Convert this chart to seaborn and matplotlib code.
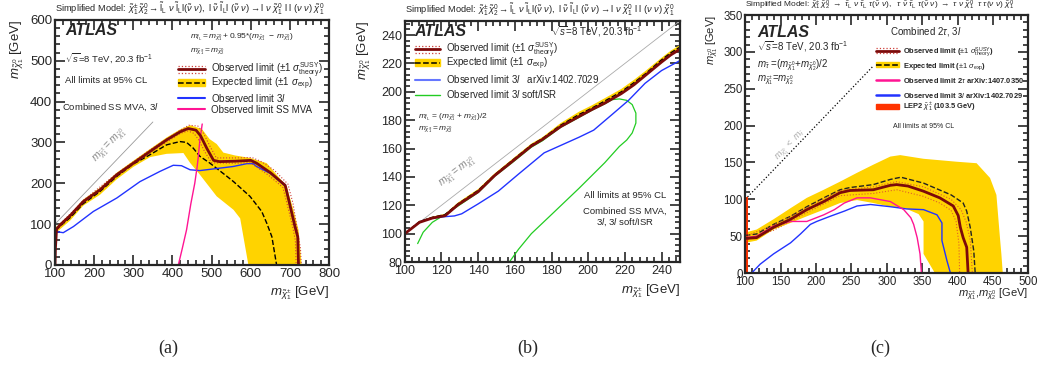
import numpy as np
import pandas as pd
import seaborn as sns
import matplotlib
matplotlib.use("Agg")
import matplotlib.pyplot as plt
from matplotlib.lines import Line2D
from matplotlib.patches import Patch
from matplotlib.legend import Legend
from matplotlib.legend_handler import HandlerBase
from matplotlib.ticker import MultipleLocator

# ---------------- data ----------------
# (a)
a_obs_x = [100, 101, 104, 113, 140, 172, 215, 258, 300, 343, 385, 420, 440, 460, 472, 488, 505, 520, 560, 600, 615, 650, 688, 700, 713, 720, 722]
a_obs_y = [0, 40, 88, 98, 122, 155, 184, 221, 249, 278, 306, 326, 334, 330, 316, 285, 256, 253, 254, 256, 249, 226, 195, 147, 94, 69, 0]
a_thup_x = [104, 172, 258, 343, 420, 442, 465, 478, 495, 512, 560, 603, 625, 660, 695, 708, 720, 727, 729]
a_thup_y = [91, 158, 224, 282, 330, 342, 340, 325, 292, 262, 262, 263, 254, 232, 198, 150, 80, 40, 0]
a_thdn_x = [104, 172, 258, 343, 420, 440, 455, 468, 482, 500, 560, 598, 610, 645, 682, 694, 707, 714, 716]
a_thdn_y = [85, 152, 218, 275, 322, 328, 322, 305, 278, 250, 249, 250, 243, 220, 190, 145, 94, 60, 0]
a_exp_x = [101, 113, 140, 172, 215, 258, 300, 343, 385, 419, 436, 453, 470, 496, 539, 556, 598, 628, 641, 654, 666]
a_exp_y = [85, 95, 117, 150, 180, 217, 247, 270, 294, 302, 300, 286, 266, 249, 217, 204, 168, 131, 102, 69, 0]
a_band_up_x = [101, 104, 140, 172, 215, 258, 300, 343, 385, 420, 445, 475, 495, 513, 530, 560, 598, 641, 692, 709, 722, 730]
a_band_up_y = [92, 94, 126, 160, 189, 226, 255, 284, 312, 332, 342, 333, 308, 296, 275, 268, 262, 249, 192, 135, 86, 0]
a_band_lo_x = [101, 104, 140, 172, 215, 258, 300, 343, 385, 428, 445, 470, 513, 556, 573, 594]
a_band_lo_y = [78, 80, 110, 145, 172, 210, 240, 264, 272, 274, 250, 221, 168, 135, 114, 0]
a_3l_x = [100, 101, 108, 121, 147, 198, 258, 317, 368, 402, 423, 445, 470, 555, 590, 606, 615, 650, 688, 700, 713, 720, 722]
a_3l_y = [0, 82, 81, 79, 94, 131, 164, 204, 229, 244, 243, 233, 231, 241, 248, 248, 241, 224, 193, 146, 93, 68, 0]
a_ss_x = [415, 425, 436, 447, 457, 463, 466, 470, 474, 476]
a_ss_y = [0, 40, 86, 150, 200, 240, 265, 306, 331, 345]
a_diag = [100, 350]

# (b)
b_obs_x = [100, 104, 108, 115, 122, 129, 140, 149, 158, 169, 175, 185, 195, 202, 209, 218, 225, 231, 240, 245, 250]
b_obs_y = [100, 104, 108, 111, 112.7, 120.4, 129.6, 141, 150.3, 161.8, 166.4, 175.5, 182.6, 187.5, 192, 198.7, 205, 211.4, 221, 226, 230]
b_exp_x = [100, 108, 115, 122, 129, 140, 149, 158, 169, 175, 185, 195, 202, 209, 218, 225, 231, 240, 245, 250]
b_exp_y = [100, 108.5, 111.5, 113.5, 121, 130.5, 141.5, 151, 162.5, 167, 176.5, 184, 188.5, 193.5, 200, 206.5, 212.5, 222.5, 227.5, 231.5]
b_band_up_y = [100, 109, 112, 114, 122, 131.5, 142.5, 152, 163.5, 168, 178, 186, 190.5, 195.5, 202, 208.5, 214.5, 224, 229, 233]
b_band_lo_y = [100, 108, 111, 113, 120.5, 129.8, 141, 150.5, 162, 166.5, 176, 183, 187.5, 192.5, 199, 205.5, 211.5, 221.5, 226.5, 230.5]
b_3l_x = [109, 115, 122, 127, 131, 140, 151, 162, 176, 195, 203, 213, 222, 231, 240, 250]
b_3l_y = [109, 111, 112, 112.5, 114, 121, 130, 142, 157, 168, 173, 184, 194, 206, 215, 222]
b_isr_x = [107, 110, 115, 120, 129, 140, 149, 158, 169, 175, 185, 195, 202, 209, 213, 217, 221, 224, 226, 226, 224, 221, 217, 209, 195, 180, 169, 162, 157]
b_isr_y = [93, 101, 108, 112, 119.5, 129, 140.5, 149.5, 161, 165.5, 175, 182, 187, 191.5, 194.5, 195, 194, 191, 185, 178, 171, 166, 161.5, 150, 132, 113.5, 100, 89, 80]
b_diag = [110, 250]

# (c)
c_obs_x = [100, 116, 140, 164, 187, 211, 234, 248, 281, 305, 314, 330, 352, 375, 394, 401, 404, 408, 413, 415]
c_obs_y = [47, 48, 62, 73, 86, 97, 109, 112, 113, 119, 120, 118, 111, 102, 91, 78, 62, 48, 35, 0]
c_exp_x = [100, 116, 140, 164, 187, 211, 234, 248, 281, 305, 320, 352, 391, 408, 413, 418, 423, 425]
c_exp_y = [51, 53, 66, 77, 90, 102, 113, 116, 120, 127, 130, 122, 106, 95, 84, 62, 30, 0]
c_thup_x = [100, 140, 187, 234, 281, 314, 352, 391, 405, 412, 418, 421]
c_thup_y = [50, 65, 89, 112, 117, 124, 117, 100, 86, 70, 45, 0]
c_thdn_x = [100, 140, 187, 234, 281, 314, 352, 375, 391, 398, 402, 403]
c_thdn_y = [44, 58, 82, 105, 108, 113, 104, 95, 85, 70, 40, 0]
c_band_up_x = [100, 116, 140, 164, 187, 211, 234, 258, 281, 305, 319, 352, 399, 427, 446, 455, 460, 462, 464]
c_band_up_y = [55, 59, 73, 88, 102, 113, 124, 136, 147, 158, 160, 155, 151, 149, 129, 106, 48, 26, 0]
c_band_lo_x = [100, 116, 140, 164, 187, 211, 234, 258, 281, 305, 328, 345, 352, 352, 368]
c_band_lo_y = [41, 44, 59, 68, 77, 86, 95, 99, 95, 90, 87, 80, 70, 26, 0]
c_2tau_x = [100, 116, 140, 164, 187, 211, 226, 240, 258, 277, 305, 324, 334, 338, 343, 347, 349]
c_2tau_y = [48, 50, 64, 70, 70, 79, 86, 95, 102, 102, 97, 86, 75, 66, 48, 26, 0]
c_3l_x = [109, 121, 140, 164, 178, 192, 201, 220, 240, 258, 277, 305, 328, 352, 371, 378, 378, 385, 390]
c_3l_y = [0, 12, 26, 41, 53, 66, 70, 77, 84, 91, 93, 90, 87, 86, 79, 68, 44, 17, 0]
c_diag = [100, 280]
lep_mass = 103.5

# ---------------- style ----------------
sns.set_style("ticks")
plt.rcParams['font.family'] = ['Liberation Sans', 'DejaVu Sans']
plt.rcParams['mathtext.fontset'] = 'custom'
plt.rcParams['mathtext.rm'] = 'Liberation Sans'
plt.rcParams['mathtext.it'] = 'Liberation Sans:italic'
plt.rcParams['mathtext.bf'] = 'Liberation Sans:bold'

DRED = '#7c0a0a'
THEO = '#d0403a'
YEL = '#ffd300'
BLUE = '#2233ff'
PINK = '#ff1493'
GREEN = '#22cc22'


class ObsHandler(HandlerBase):
    # solid dark red line with dotted theory lines above and below
    def create_artists(self, legend, orig, x0, y0, w, h, fontsize, trans):
        out = []
        for dy, ls, lw, c in [(0.5, '-', 2.0, DRED), (1.0, ':', 0.9, THEO), (0.0, ':', 0.9, THEO)]:
            out.append(Line2D([x0, x0 + w], [y0 + dy * h] * 2, color=c, ls=ls, lw=lw, transform=trans))
        return out


obs_h = Line2D([], [], color=DRED)
exp_h = (Patch(color=YEL), Line2D([], [], color='k', ls='--', lw=1.1))


def curve(ax, xs, ys, color, lw=1.0, ls='-'):
    sns.lineplot(x=xs, y=ys, sort=False, estimator=None, color=color, lw=lw, linestyle=ls, ax=ax, legend=False)


def band(ax, up_x, up_y, lo_x, lo_y):
    ax.fill(list(up_x) + list(lo_x)[::-1], list(up_y) + list(lo_y)[::-1], color=YEL, lw=0, zorder=1)


def key_rows(ax, handles, labels, x, ys, **kw):
    # one legend per row so the rows sit where the reference has them
    for h, l, y in zip(handles, labels, ys):
        leg = Legend(ax, [h], [l], handler_map={obs_h: ObsHandler()}, loc='center left',
                     bbox_to_anchor=(x, y), bbox_transform=ax.transAxes, frameon=False,
                     borderaxespad=0, borderpad=0, **kw)
        ax.add_artist(leg)


def frame(ax, xlim, ylim, xmaj, xmin, ymaj, ymin, lsize):
    ax.set_xlim(xlim)
    ax.set_ylim(ylim)
    ax.xaxis.set_major_locator(MultipleLocator(xmaj))
    ax.xaxis.set_minor_locator(MultipleLocator(xmin))
    ax.yaxis.set_major_locator(MultipleLocator(ymaj))
    ax.yaxis.set_minor_locator(MultipleLocator(ymin))
    ax.tick_params(which='both', direction='in', top=True, right=True, width=1.2, labelsize=lsize, pad=2)
    ax.tick_params(which='major', length=7)
    ax.tick_params(which='minor', length=3.5)
    for s in ax.spines.values():
        s.set_linewidth(1.6)
        s.set_zorder(10)


chi01 = r'\tilde{\chi}^{0}_{1}'
chi02 = r'\tilde{\chi}^{0}_{2}'
chipm = r'\tilde{\chi}^{\pm}_{1}'
lbl_obs = r'Observed limit ($\pm1\ \sigma^{\mathrm{SUSY}}_{\mathrm{theory}}$)'
lbl_exp = r'Expected limit ($\pm1\ \sigma_{\mathrm{exp}}$)'
title_l = (r'Simplified Model: $' + chipm + r'\,' + chi02 + r'\rightarrow\tilde{\mathrm{l}}_{\mathrm{L}}\ \nu\ \tilde{\mathrm{l}}_{\mathrm{L}}\mathrm{l}(\tilde{\nu}\ \nu),\ \mathrm{l}\ \tilde{\nu}\ \tilde{\mathrm{l}}_{\mathrm{L}}\mathrm{l}\ (\tilde{\nu}\ \nu)\rightarrow\mathrm{l}\ \nu\ ' + chi01 + r'\ \mathrm{l}\ \mathrm{l}\ (\nu\ \nu)\ ' + chi01 + '$')
title_t = (r'Simplified Model: $' + chipm + r'\,' + chi02 + r'\ \rightarrow\ \tilde{\tau}_{\mathrm{L}}\ \nu\ \tilde{\tau}_{\mathrm{L}}\ \tau(\tilde{\nu}\ \nu),\ \ \tau\ \tilde{\nu}\ \tilde{\tau}_{\mathrm{L}}\ \tau(\tilde{\nu}\ \nu)\ \rightarrow\ \tau\ \nu\ ' + chi01 + r'\ \ \tau\ \tau(\nu\ \nu)\ ' + chi01 + '$')

fig = plt.figure(figsize=(10.38, 3.67), dpi=100)
axa = fig.add_axes([0.053, 0.278, 0.264, 0.668])
axb = fig.add_axes([0.390, 0.286, 0.265, 0.657])
axc = fig.add_axes([0.718, 0.256, 0.2726, 0.703])

# ---------------- panel (a) ----------------
ax = axa
band(ax, a_band_up_x, a_band_up_y, a_band_lo_x, a_band_lo_y)
curve(ax, a_diag, a_diag, '#999999', lw=0.6)
curve(ax, a_exp_x, a_exp_y, 'k', lw=1.0, ls='--')
curve(ax, a_3l_x, a_3l_y, BLUE, lw=1.0)
curve(ax, a_ss_x, a_ss_y, PINK, lw=1.0)
curve(ax, a_thup_x, a_thup_y, THEO, lw=0.8, ls=':')
curve(ax, a_thdn_x, a_thdn_y, THEO, lw=0.8, ls=':')
curve(ax, a_obs_x, a_obs_y, DRED, lw=2.0)
frame(ax, (100, 800), (0, 600), 100, 20, 100, 20, 9.5)
ax.text(240, 292, r'$m_{' + chipm + r'} = m_{' + chi01 + '}$', rotation=46, color='#888888', fontsize=7.5, ha='center', va='center')
ax.text(0.036, 0.955, 'ATLAS', transform=ax.transAxes, fontsize=11.5, weight='bold', style='italic', va='center')
ax.text(0.036, 0.845, r'$\sqrt{s}$=8 TeV, 20.3 fb$^{-1}$', transform=ax.transAxes, fontsize=6.8, va='center')
ax.text(0.036, 0.751, 'All limits at 95% CL', transform=ax.transAxes, fontsize=6.8, va='center')
ax.text(0.026, 0.645, 'Combined SS MVA, 3$l$', transform=ax.transAxes, fontsize=6.8, va='center')
ax.text(0.493, 0.93, r'$m_{\tilde{l}_{\mathrm{L}}} = m_{' + chi01 + r'} + 0.95{*}(m_{' + chipm + r'}\ -\ m_{' + chi01 + '})$', transform=ax.transAxes, fontsize=6, va='center')
ax.text(0.493, 0.87, r'$m_{' + chipm + r'} = m_{' + chi02 + '}$', transform=ax.transAxes, fontsize=6, va='center')
ax.text(0.0, 1.012, title_l, transform=ax.transAxes, fontsize=6.7, va='bottom', ha='left')
key_rows(ax, [obs_h, exp_h, Line2D([], [], color=BLUE), Line2D([], [], color=PINK)],
         [lbl_obs, lbl_exp, 'Observed limit 3$l$', 'Observed limit SS MVA'],
         0.449, [0.796, 0.739, 0.682, 0.633], fontsize=7, handlelength=2.8, handletextpad=0.6)
ax.set_ylabel(r'$m_{' + chi01 + '}$ [GeV]', fontsize=9.5, loc='top')
ax.yaxis.set_label_coords(-0.105, 1.0)
ax.set_xlabel(r'$m_{' + chipm + '}$ [GeV]', fontsize=9.5, loc='right')
ax.xaxis.set_label_coords(1.0, -0.08)

# ---------------- panel (b) ----------------
ax = axb
band(ax, b_exp_x, b_band_up_y, b_exp_x, b_band_lo_y)
curve(ax, b_diag, b_diag, '#aaaaaa', lw=0.6)
curve(ax, b_isr_x, b_isr_y, GREEN, lw=0.9)
curve(ax, b_3l_x, b_3l_y, BLUE, lw=1.0)
curve(ax, b_exp_x, b_exp_y, 'k', lw=1.0, ls='--')
curve(ax, b_obs_x, b_obs_y, DRED, lw=2.0)
frame(ax, (100, 250), (80, 250), 20, 4, 20, 4, 9)
ax.text(129, 143, r'$m_{' + chipm + r'} = m_{' + chi01 + '}$', rotation=38, color='#888888', fontsize=7.5, ha='center', va='center')
ax.text(0.036, 0.958, 'ATLAS', transform=ax.transAxes, fontsize=11.5, weight='bold', style='italic', va='center')
ax.text(0.53, 0.954, r'$\sqrt{s}$=8 TeV, 20.3 fb$^{-1}$', transform=ax.transAxes, fontsize=7, va='center')
ax.text(0.047, 0.60, r'$m_{\tilde{l}_{\mathrm{L}}}$ = ($m_{' + chi01 + r'}$ + $m_{' + chipm + '}$)/2', transform=ax.transAxes, fontsize=6, va='center')
ax.text(0.047, 0.548, r'$m_{' + chipm + r'} = m_{' + chi02 + '}$', transform=ax.transAxes, fontsize=6, va='center')
ax.text(0.80, 0.278, 'All limits at 95% CL', transform=ax.transAxes, fontsize=6.8, va='center', ha='center')
ax.text(0.80, 0.185, 'Combined SS MVA,\n3$l$, 3$l$ soft/ISR', transform=ax.transAxes, fontsize=6.8, va='center', ha='center', multialignment='center')
ax.text(0.0, 1.012, title_l, transform=ax.transAxes, fontsize=6.7, va='bottom', ha='left')
key_rows(ax, [obs_h, exp_h, Line2D([], [], color='#6677ff', lw=1.5), Line2D([], [], color=GREEN, lw=1.0)],
         [lbl_obs, lbl_exp, 'Observed limit 3$l$   arXiv:1402.7029', 'Observed limit 3$l$ soft/ISR'],
         0.036, [0.880, 0.822, 0.759, 0.697], fontsize=7, handlelength=2.6, handletextpad=0.6)
ax.set_ylabel(r'$m_{' + chi01 + '}$ [GeV]', fontsize=9.5, loc='top')
ax.yaxis.set_label_coords(-0.116, 1.0)
ax.set_xlabel(r'$m_{' + chipm + '}$ [GeV]', fontsize=9.5, loc='right')
ax.xaxis.set_label_coords(1.0, -0.085)

# ---------------- panel (c) ----------------
ax = axc
band(ax, c_band_up_x, c_band_up_y, c_band_lo_x, c_band_lo_y)
ax.fill_between([100, lep_mass], 0, lep_mass, color='#ff3300', lw=0, zorder=2)
curve(ax, c_diag, c_diag, 'k', lw=0.9, ls=':')
curve(ax, c_3l_x, c_3l_y, BLUE, lw=1.0)
curve(ax, c_2tau_x, c_2tau_y, PINK, lw=1.0)
curve(ax, c_exp_x, c_exp_y, '#222222', lw=1.0, ls='--')
curve(ax, c_thup_x, c_thup_y, '#e0602a', lw=0.8, ls=':')
curve(ax, c_thdn_x, c_thdn_y, '#e0602a', lw=0.8, ls=':')
curve(ax, c_obs_x, c_obs_y, DRED, lw=2.0)
frame(ax, (100, 500), (0, 350), 50, 10, 50, 10, 8.3)
ax.text(165, 174, r'$m_{' + chi01 + r'}\ <\ m_{\tilde{\tau}}$', rotation=46, color='#aaaaaa', fontsize=6.5, ha='center', va='center')
ax.text(0.042, 0.934, 'ATLAS', transform=ax.transAxes, fontsize=11.5, weight='bold', style='italic', va='center')
ax.text(0.042, 0.876, r'$\sqrt{s}$=8 TeV, 20.3 fb$^{-1}$', transform=ax.transAxes, fontsize=7, va='center')
ax.text(0.042, 0.807, r'$m_{\tilde{\tau}}$ =($m_{' + chi01 + r'}$+$m_{' + chi02 + '}$)/2', transform=ax.transAxes, fontsize=7, va='center')
ax.text(0.042, 0.749, r'$m_{' + chipm + r'}$=$m_{' + chi02 + '}$', transform=ax.transAxes, fontsize=7, va='center')
ax.text(0.512, 0.938, r'Combined 2$\tau$, 3$l$', transform=ax.transAxes, fontsize=7, va='center')
ax.text(0.632, 0.568, 'All limits at 95% CL', transform=ax.transAxes, fontsize=5, va='center', ha='center')
ax.text(0.0, 1.012, title_t, transform=ax.transAxes, fontsize=6.0, va='bottom', ha='left')
key_rows(ax, [obs_h, exp_h, Line2D([], [], color=PINK, lw=1.8), Line2D([], [], color=BLUE, lw=1.8),
              Patch(color='#ff3300')],
         [lbl_obs, lbl_exp, r'Observed limit 2$\tau$ arXiv:1407.0350', 'Observed limit 3$l$ arXiv:1402.7029',
          r'LEP2 $\tilde{\chi}^{\pm}_{1}$ (103.5 GeV)'],
         0.463, [0.857, 0.802, 0.748, 0.690, 0.643], prop={'size': 5.4, 'weight': 'bold'},
         handlelength=3.0, handletextpad=0.6)
ax.set_ylabel(r'$m_{' + chi01 + '}$ [GeV]', fontsize=8, loc='top')
ax.yaxis.set_label_coords(-0.088, 1.0)
ax.set_xlabel(r'$m_{' + chipm + '}$,$m_{' + chi02 + '}$ [GeV]', fontsize=8, loc='right')
ax.xaxis.set_label_coords(1.0, -0.05)

# captions
for xc, cap in [(0.162, '(a)'), (0.508, '(b)'), (0.848, '(c)')]:
    fig.text(xc, 0.052, cap, fontsize=13, family='Liberation Serif', ha='center', va='center')

fig.savefig('out.png', dpi=100)
